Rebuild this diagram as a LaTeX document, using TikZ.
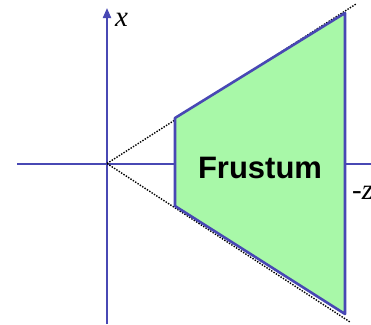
\documentclass[tikz,border=0pt]{standalone}
\usepackage{fontspec}
\setmainfont{Liberation Serif}
\setsansfont{Liberation Sans}
\usetikzlibrary{arrows.meta}
\definecolor{axisblue}{RGB}{72,72,180}
\definecolor{frgreen}{RGB}{168,248,168}
\begin{document}
\begin{tikzpicture}[x=1pt,y=-1pt,
  axisline/.style={draw=axisblue,line width=2pt},
  edgeline/.style={draw=axisblue,line width=2.6pt,line join=round},
  rayline/.style={draw=black,line width=1.4pt,dash pattern=on 1.4pt off 1.4pt},
  lbl/.style={font=\fontsize{29}{29}\selectfont\itshape,inner sep=0pt}]
\useasboundingbox (0,0) rectangle (371,324);
\coordinate (O) at (107,163.5);
\coordinate (xtip) at (107,8);
\coordinate (xbot) at (107,324);
\coordinate (zl) at (17,163.5);
\coordinate (zr) at (371,163.5);
\coordinate (nt) at (175,118);
\coordinate (nb) at (175,206);
\coordinate (ft) at (345,13);
\coordinate (fb) at (345,314);
\coordinate (rt) at (356,4);
\coordinate (rb) at (350,322);
% axes
\draw[axisline] (zl) -- (zr);
\draw[axisline,-{Triangle[length=10pt,width=8pt]}] (xbot) -- (xtip);
% rays
\draw[rayline] (O) -- (rt);
\draw[rayline] (O) -- (rb);
% frustum
\fill[frgreen] (nt) -- (ft) -- (fb) -- (nb) -- cycle;
\draw[edgeline] (nt) -- (ft) -- (fb) -- (nb) -- cycle;
% labels
\node[lbl,anchor=west] (xl) at (115,20) {x};
\node[lbl,anchor=west] (zlbl) at (352,193) {-z};
\node[font=\sffamily\bfseries\fontsize{31}{31}\selectfont,inner sep=0pt] (f) at (260,168) {Frustum};
\end{tikzpicture}
\end{document}
